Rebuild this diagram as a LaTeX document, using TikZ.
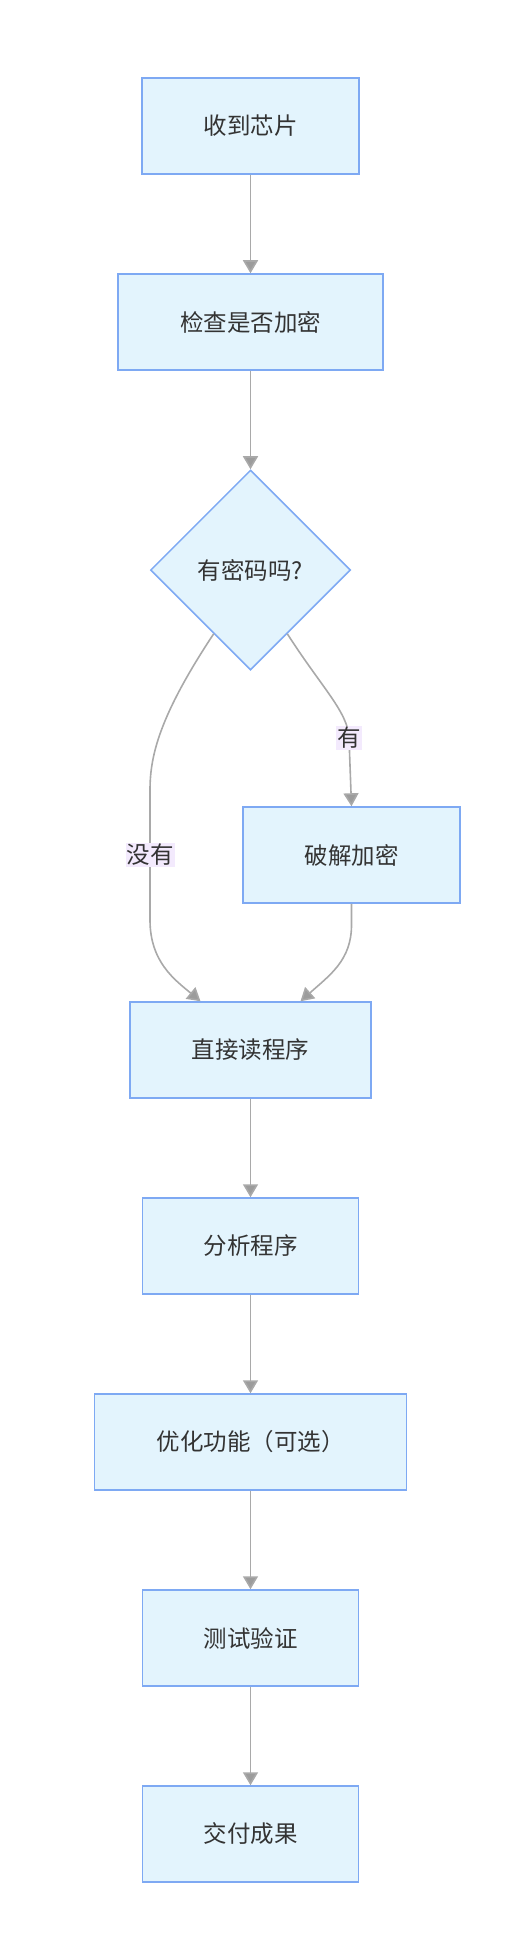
\documentclass[tikz,border=0pt]{standalone}
\usepackage{fontspec}
\usepackage{tikz}
\usetikzlibrary{arrows.meta, positioning, calc, shapes.geometric}
\setmainfont{Noto Sans CJK SC}
\definecolor{boxFill}{HTML}{E3F4FD}
\definecolor{boxLine}{HTML}{7EA9F3}
\definecolor{edgeLine}{HTML}{A9A9A9}
\definecolor{tipFill}{HTML}{9C9C9C}
\definecolor{labFill}{HTML}{F3EAFD}
\definecolor{txt}{HTML}{333333}
\tikzset{
	box/.style = {draw=boxLine, fill=boxFill, line width=1.5pt, minimum height=96pt, inner sep=0pt, text=txt},
	decide/.style = {diamond, draw=boxLine, fill=boxFill, line width=1.5pt, minimum width=200pt, minimum height=200pt, inner sep=0pt, text=txt},
	flow/.style = {draw=edgeLine, line width=1.6pt, -{Triangle[length=13pt, width=15pt, fill=tipFill]}},
	edgeLab/.style = {fill=labFill, text=txt, inner sep=1pt}
}

\begin{document}
\begin{tikzpicture}[x=1pt, y=-1pt]
	\useasboundingbox (0,0) rectangle (520,1942);
	\tikzstyle{every node}=[font=\fontsize{23.5}{28}\selectfont]
	
	\pgfmathsetmacro{\xMid}{250.5}
	\pgfmathsetmacro{\xRight}{351.5}
	
	\node [box, minimum width=217pt] (recv) at (\xMid,126) {收到芯片};
	\node [box, minimum width=265pt] (check) at (\xMid,322) {检查是否加密};
	\node [decide] (pwd) at (\xMid,570) {有密码吗?};
	\node [box, minimum width=217pt] (crack) at (\xRight,855) {破解加密};
	\node [box, minimum width=241pt] (read) at (\xMid,1050) {直接读程序};
	\node [box, minimum width=216pt] (anal) at (\xMid,1246) {分析程序};
	\node [box, minimum width=312pt] (opt) at (\xMid,1442) {优化功能（可选）};
	\node [box, minimum width=216pt] (test) at (\xMid,1638) {测试验证};
	\node [box, minimum width=216pt] (deliv) at (\xMid,1834) {交付成果};
	
	\draw [flow] (recv) -- (check);
	\draw [flow] (check) -- (pwd);
	% no password
	\draw [flow] (pwd.240) .. controls (160,715) and (150,755) .. (150,790) -- node [edgeLab] (noLab) {没有} (150,920) .. controls (150,962) and (175,980) .. ([xshift=-50pt]read.north);
	% password
	\draw [flow] (pwd.300) .. controls (322,688) and (348,712) .. (349,738) node [edgeLab] (yesLab) {有} -- (crack.north);
	\draw [flow] (crack.south) -- (\xRight,925) .. controls (\xRight,960) and (330,975) .. ([xshift=50pt]read.north);
	\draw [flow] (read) -- (anal);
	\draw [flow] (anal) -- (opt);
	\draw [flow] (opt) -- (test);
	\draw [flow] (test) -- (deliv);
	
\end{tikzpicture}
\end{document}
